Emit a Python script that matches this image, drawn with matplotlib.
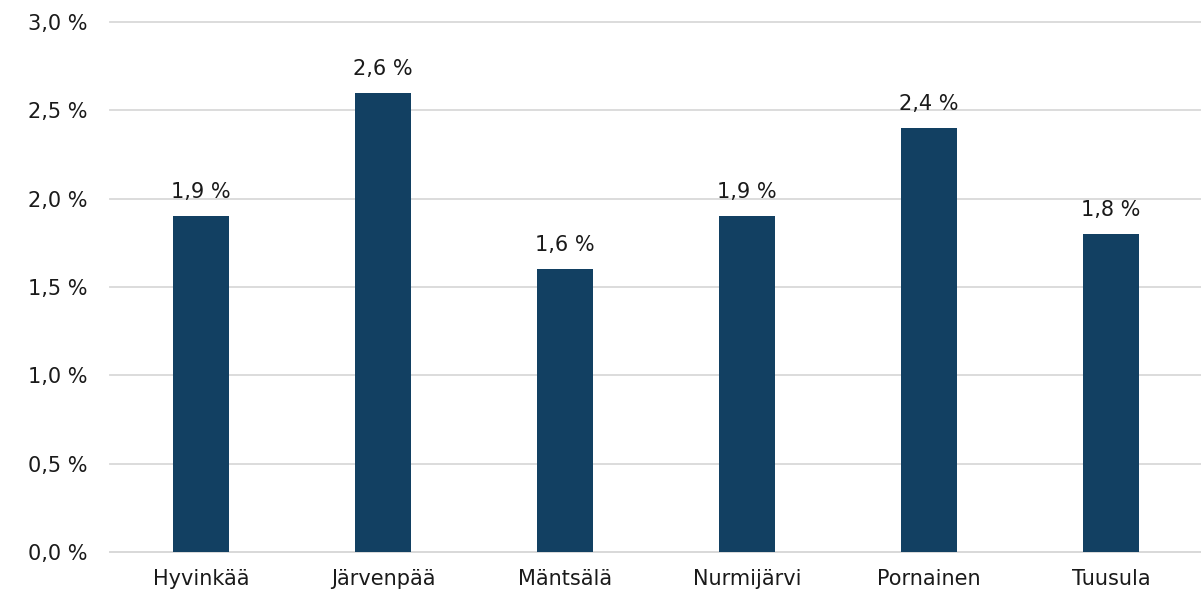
import matplotlib.pyplot as plt

# Kuntien arvot (%)
municipalities = ["Hyvinkää", "Järvenpää", "Mäntsälä", "Nurmijärvi", "Pornainen", "Tuusula"]
values = [1.9, 2.6, 1.6, 1.9, 2.4, 1.8]
y_ticks = [0.0, 0.5, 1.0, 1.5, 2.0, 2.5, 3.0]

plt.rcParams['font.family'] = ['DejaVu Sans']

fig = plt.figure(figsize=(12.01, 5.95), dpi=100)
ax = fig.add_axes([110 / 1201, 1 - 552 / 595, 1092 / 1201, 530 / 595])

x = range(len(municipalities))
bars = ax.bar(x, values, width=0.31, color="#124062", zorder=3)

# Arvot palkkien päälle
for xi, v in zip(x, values):
    ax.annotate(f"{v:.1f} %".replace(".", ","), (xi, v), xytext=(0, 10),
                textcoords="offset points", ha="center", va="bottom",
                fontsize=15, color="#1a1a1a")

ax.set_xlim(-0.5, 5.5)
ax.set_ylim(0, 3.0)
ax.set_yticks(y_ticks)
ax.set_yticklabels([f"{t:.1f} %".replace(".", ",") for t in y_ticks])
ax.set_xticks(list(x))
ax.set_xticklabels(municipalities)
ax.tick_params(axis="both", length=0, labelsize=15, colors="#1a1a1a")
ax.tick_params(axis="y", pad=16)
ax.tick_params(axis="x", pad=12)

ax.grid(axis="y", color="#d9d9d9", linewidth=1.3, zorder=0)
for line in ax.get_ygridlines():
    line.set_clip_on(False)
for side in ["top", "right", "left"]:
    ax.spines[side].set_visible(False)
ax.spines["bottom"].set_color("#d9d9d9")
ax.spines["bottom"].set_linewidth(1.3)

fig.savefig("out.png", dpi=100)
